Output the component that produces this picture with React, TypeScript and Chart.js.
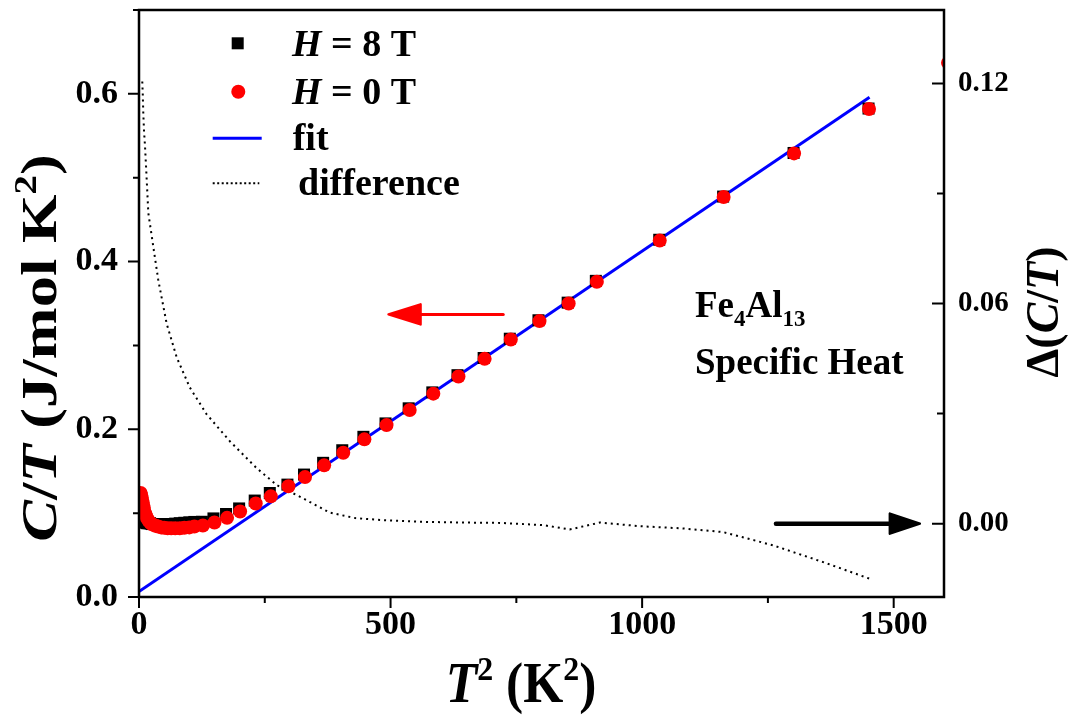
import React, { useEffect, useRef } from "react";
import { Chart, registerables } from "chart.js";

Chart.register(...registerables);

// C/T versus T^2, zero field (red circles)
const t2Zero = [3.2, 4, 5, 6, 7, 8, 9, 10, 12, 14, 16, 19, 22, 25, 29, 33, 38, 44, 50, 57, 64, 72, 81, 90, 100, 110, 127, 150, 175, 201, 232, 262, 297, 330, 368, 406, 448, 492, 538, 585, 635, 687, 739, 796, 854, 910, 1035, 1162, 1302, 1451, 1608];
const ctZero = [0.124, 0.122, 0.119, 0.116, 0.113, 0.11, 0.107, 0.104, 0.1, 0.097, 0.094, 0.091, 0.089, 0.087, 0.086, 0.085, 0.084, 0.083, 0.0825, 0.082, 0.082, 0.082, 0.082, 0.0825, 0.083, 0.084, 0.0853, 0.0889, 0.0944, 0.102, 0.1115, 0.12, 0.132, 0.143, 0.157, 0.172, 0.188, 0.205, 0.223, 0.2425, 0.263, 0.284, 0.307, 0.329, 0.35, 0.376, 0.425, 0.477, 0.529, 0.582, 0.637];

// C/T versus T^2, H = 8 T (black squares)
const t2Eight = [3.2, 4, 5, 6, 7, 8, 9, 10, 12, 14, 16, 19, 22, 25, 29, 33, 38, 44, 50, 57, 64, 72, 81, 90, 100, 110, 125, 148, 173, 199, 230, 260, 295, 328, 366, 404, 446, 490, 536, 583, 633, 685, 737, 794, 852, 908, 1034, 1161, 1301, 1450];
const ctEight = [0.092, 0.092, 0.091, 0.091, 0.09, 0.09, 0.09, 0.089, 0.089, 0.089, 0.088, 0.088, 0.088, 0.087, 0.087, 0.087, 0.087, 0.087, 0.087, 0.087, 0.087, 0.0875, 0.088, 0.0885, 0.089, 0.0895, 0.0897, 0.0937, 0.099, 0.1056, 0.115, 0.124, 0.134, 0.146, 0.16, 0.175, 0.191, 0.207, 0.225, 0.244, 0.2645, 0.285, 0.308, 0.33, 0.351, 0.377, 0.426, 0.4775, 0.5295, 0.5825];

// Linear fit gamma + beta*T^2 (end points)
const fitT2 = [0, 1452];
const fitCT = [0.0065, 0.596];

// Difference between the two field curves (right axis)
const diffT2 = [6.5, 7.5, 8.5, 10, 11.9, 14.5, 18.5, 28.4, 38.3, 55, 75, 101, 134.5, 181, 234, 274, 326, 379, 430, 479, 558, 640, 717, 803, 856, 916, 995, 1080, 1161, 1260, 1360, 1452];
const diffCT = [0.1205, 0.117, 0.112, 0.107, 0.103, 0.096, 0.0847, 0.0755, 0.0664, 0.0545, 0.0453, 0.0371, 0.0298, 0.0224, 0.0151, 0.0105, 0.0069, 0.003, 0.0015, 0.001, 0.0005, 0.0003, 0.0002, -0.0004, -0.0016, 0.0003, -0.0007, -0.0013, -0.0023, -0.0059, -0.0105, -0.015];

// Axis ticks
const xTicks = [0, 500, 1000, 1500];
const xMinor = [250, 750, 1250];
const yTicks = [0, 0.2, 0.4, 0.6];
const yMinor = [0.1, 0.3, 0.5, 0.7];
const y2Ticks = [0, 0.06, 0.12];
const y2Minor = [0.03, 0.09];

// Arrows pointing to the axis each curve belongs to (data coordinates)
const leftArrow = { x1: 724, x2: 496, y: 0.337 };
const rightArrow = { x1: 1266, x2: 1552, y: 0 };

const SERIF = '"Liberation Serif", "Times New Roman", serif';

type Run = { t: string; i?: boolean; sup?: boolean; sub?: boolean };

function runFont(r: Run, size: number) {
  const s = r.sup || r.sub ? size * 0.62 : size;
  return `${r.i ? "italic " : ""}bold ${s}px ${SERIF}`;
}

function runsWidth(ctx: CanvasRenderingContext2D, runs: Run[], size: number) {
  let w = 0;
  for (const r of runs) {
    ctx.font = runFont(r, size);
    w += ctx.measureText(r.t).width;
  }
  return w;
}

// Draws mixed-style text; sx stretches it along the baseline.
function drawRuns(ctx: CanvasRenderingContext2D, runs: Run[], x: number, y: number, size: number, align: "left" | "center" = "left", sx = 1) {
  ctx.save();
  ctx.translate(x, y);
  ctx.scale(sx, 1);
  let cx = align === "center" ? -runsWidth(ctx, runs, size) / 2 : 0;
  ctx.textAlign = "left";
  ctx.textBaseline = "alphabetic";
  for (const r of runs) {
    ctx.font = runFont(r, size);
    const dy = r.sup ? -size * 0.4 : r.sub ? size * 0.24 : 0;
    ctx.fillText(r.t, cx, dy);
    cx += ctx.measureText(r.t).width;
  }
  ctx.restore();
}

function drawArrow(ctx: CanvasRenderingContext2D, x1: number, x2: number, y: number, width: number, headLen: number, headHalf: number, color: string) {
  const dir = x2 > x1 ? 1 : -1;
  ctx.save();
  ctx.strokeStyle = color;
  ctx.fillStyle = color;
  ctx.lineCap = "round";
  ctx.lineJoin = "round";
  ctx.lineWidth = width;
  ctx.beginPath();
  ctx.moveTo(x1, y);
  ctx.lineTo(x2 - dir * headLen * 0.8, y);
  ctx.stroke();
  ctx.lineWidth = 2.5;
  ctx.beginPath();
  ctx.moveTo(x2, y);
  ctx.lineTo(x2 - dir * headLen, y - headHalf);
  ctx.lineTo(x2 - dir * headLen, y + headHalf);
  ctx.closePath();
  ctx.fill();
  ctx.stroke();
  ctx.restore();
}

const decorations = {
  id: "decorations",
  afterDraw(chart: any) {
    const ctx: CanvasRenderingContext2D = chart.ctx;
    const { left, right, top, bottom } = chart.chartArea;
    const xs = chart.scales.x;
    const ys = chart.scales.y;
    const y2s = chart.scales.y2;
    ctx.save();

    // frame
    ctx.strokeStyle = "#000";
    ctx.lineWidth = 2.5;
    ctx.lineCap = "square";
    ctx.beginPath();
    ctx.moveTo(left, top);
    ctx.lineTo(right, top);
    ctx.lineTo(right, bottom);
    ctx.lineTo(left, bottom);
    ctx.closePath();
    ctx.stroke();

    // tick marks
    ctx.lineWidth = 2;
    ctx.lineCap = "butt";
    ctx.beginPath();
    for (const v of xTicks) {
      const p = xs.getPixelForValue(v);
      ctx.moveTo(p, bottom);
      ctx.lineTo(p, bottom + 11);
    }
    for (const v of xMinor) {
      const p = xs.getPixelForValue(v);
      ctx.moveTo(p, bottom);
      ctx.lineTo(p, bottom + 6);
    }
    for (const v of yTicks) {
      const p = ys.getPixelForValue(v);
      ctx.moveTo(left - 11, p);
      ctx.lineTo(left, p);
    }
    for (const v of yMinor) {
      const p = ys.getPixelForValue(v);
      ctx.moveTo(left - 6, p);
      ctx.lineTo(left, p);
    }
    for (const v of y2Ticks) {
      const p = y2s.getPixelForValue(v);
      ctx.moveTo(right - 12, p);
      ctx.lineTo(right, p);
    }
    for (const v of y2Minor) {
      const p = y2s.getPixelForValue(v);
      ctx.moveTo(right - 7, p);
      ctx.lineTo(right, p);
    }
    ctx.stroke();

    // arrows
    drawArrow(ctx, xs.getPixelForValue(leftArrow.x1), xs.getPixelForValue(leftArrow.x2), ys.getPixelForValue(leftArrow.y), 3, 32, 10, "#ff0000");
    drawArrow(ctx, xs.getPixelForValue(rightArrow.x1), xs.getPixelForValue(rightArrow.x2), y2s.getPixelForValue(rightArrow.y), 4.5, 30, 10, "#000000");

    // legend
    const legSize = 38;
    ctx.fillStyle = "#000";
    ctx.fillRect(237.7 - 6, 43.3 - 6, 12, 12);
    drawRuns(ctx, [{ t: "H", i: true }, { t: " = 8 T" }], 292, 56, legSize);
    ctx.fillStyle = "#ff0000";
    ctx.beginPath();
    ctx.arc(238.3, 91.7, 7, 0, Math.PI * 2);
    ctx.fill();
    ctx.fillStyle = "#000";
    drawRuns(ctx, [{ t: "H", i: true }, { t: " = 0 T" }], 292, 103.5, legSize);
    ctx.strokeStyle = "#0000ff";
    ctx.lineWidth = 3;
    ctx.beginPath();
    ctx.moveTo(212.7, 138.3);
    ctx.lineTo(261.7, 138.3);
    ctx.stroke();
    drawRuns(ctx, [{ t: "fit" }], 292.7, 150, legSize);
    ctx.strokeStyle = "#000";
    ctx.lineWidth = 2;
    ctx.setLineDash([2, 2.5]);
    ctx.beginPath();
    ctx.moveTo(212.7, 183.3);
    ctx.lineTo(259.3, 183.3);
    ctx.stroke();
    ctx.setLineDash([]);
    drawRuns(ctx, [{ t: "difference" }], 298, 195, legSize);

    // sample annotation
    drawRuns(ctx, [{ t: "Fe" }, { t: "4", sub: true }, { t: "Al" }, { t: "13", sub: true }], 695, 317, 37);
    drawRuns(ctx, [{ t: "Specific Heat" }], 695, 374, 37);

    // axis titles
    drawRuns(ctx, [{ t: "T", i: true }, { t: "2", sup: true }, { t: " (K" }, { t: "2", sup: true }, { t: ")" }], 521, 702, 56, "center", 0.92);

    ctx.save();
    ctx.translate(56, 348);
    ctx.rotate(-Math.PI / 2);
    drawRuns(ctx, [{ t: "C", i: true }, { t: "/" }, { t: "T", i: true }, { t: " (J/mol K" }, { t: "2", sup: true }, { t: ")" }], 0, 0, 50, "center", 1.25);
    ctx.restore();

    ctx.save();
    ctx.translate(1058, 312);
    ctx.rotate(-Math.PI / 2);
    drawRuns(ctx, [{ t: "\u0394(" }, { t: "C", i: true }, { t: "/" }, { t: "T", i: true }, { t: ")" }], 0, 0, 46, "center");
    ctx.restore();

    ctx.restore();
  },
};

const mainTickFont = { family: SERIF, size: 34, weight: "bold" as const };
const rightTickFont = { family: SERIF, size: 29, weight: "bold" as const };
const noGrid = { display: false, drawTicks: false };

export default function App() {
  const ref = useRef<HTMLCanvasElement>(null);

  useEffect(() => {
    document.body.style.margin = "0";
    const canvas = ref.current;
    if (!canvas) return;
    const pts = (xs: number[], ys: number[]) => xs.map((x, i) => ({ x, y: ys[i] }));
    const chart = new Chart(canvas, {
      type: "scatter",
      data: {
        datasets: [
          {
            label: "H = 0 T",
            data: pts(t2Zero, ctZero),
            pointStyle: "circle",
            pointRadius: 7,
            pointBorderWidth: 0,
            backgroundColor: "#ff0000",
            borderColor: "#ff0000",
            yAxisID: "y",
            order: 0,
            clip: 0,
          },
          {
            label: "H = 8 T",
            data: pts(t2Eight, ctEight),
            pointStyle: "rect",
            pointRadius: 8.5,
            pointBorderWidth: 0,
            backgroundColor: "#000000",
            borderColor: "#000000",
            yAxisID: "y",
            order: 1,
            clip: 0,
          },
          {
            label: "fit",
            data: pts(fitT2, fitCT),
            showLine: true,
            pointRadius: 0,
            borderColor: "#0000ff",
            borderWidth: 3,
            yAxisID: "y",
            order: 2,
            clip: 0,
          },
          {
            label: "difference",
            data: pts(diffT2, diffCT),
            showLine: true,
            pointRadius: 0,
            borderColor: "#000000",
            borderWidth: 2,
            borderDash: [2, 4],
            yAxisID: "y2",
            order: 3,
            clip: 0,
          },
        ],
      },
      options: {
        animation: false,
        responsive: false,
        layout: { padding: { top: 10, left: 0, right: 0, bottom: 0 } },
        plugins: { legend: { display: false }, tooltip: { enabled: false } },
        scales: {
          x: {
            type: "linear",
            min: 0,
            max: 1600,
            grid: noGrid,
            border: { display: false },
            afterBuildTicks: (s: any) => {
              s.ticks = xTicks.map((v) => ({ value: v }));
            },
            afterFit: (s: any) => {
              s.height = 118;
              s.paddingLeft = 0;
              s.paddingRight = 0;
            },
            ticks: {
              font: mainTickFont,
              color: "#000",
              padding: 8,
              maxRotation: 0,
              callback: (v: any) => String(v),
            },
          },
          y: {
            type: "linear",
            position: "left",
            min: 0,
            max: 0.7,
            grid: noGrid,
            border: { display: false },
            afterBuildTicks: (s: any) => {
              s.ticks = yTicks.map((v) => ({ value: v }));
            },
            afterFit: (s: any) => {
              s.width = 139;
              s.paddingTop = 0;
              s.paddingBottom = 0;
            },
            ticks: {
              font: mainTickFont,
              color: "#000",
              padding: 21,
              callback: (v: any) => Number(v).toFixed(1),
            },
          },
          y2: {
            type: "linear",
            position: "right",
            min: -0.02,
            max: 0.14,
            grid: noGrid,
            border: { display: false },
            afterBuildTicks: (s: any) => {
              s.ticks = y2Ticks.map((v) => ({ value: v }));
            },
            afterFit: (s: any) => {
              s.width = 130;
              s.paddingTop = 0;
              s.paddingBottom = 0;
            },
            ticks: {
              font: rightTickFont,
              color: "#000",
              padding: 14,
              callback: (v: any) => Number(v).toFixed(2),
            },
          },
        },
      },
      plugins: [decorations],
    });
    return () => chart.destroy();
  }, []);

  return (
    <div style={{ width: 1074, height: 715 }}>
      <canvas ref={ref} width={1074} height={715} style={{ display: "block", width: 1074, height: 715 }} />
    </div>
  );
}
